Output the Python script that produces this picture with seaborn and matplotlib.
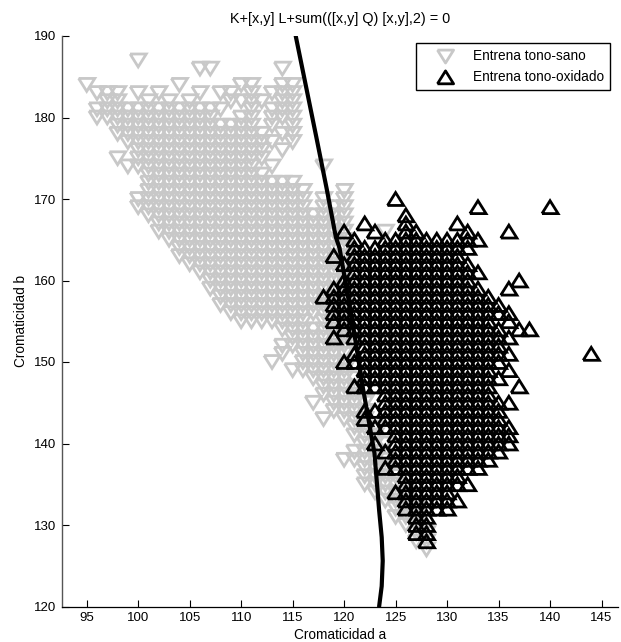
import matplotlib
matplotlib.use('Agg')
import matplotlib.pyplot as plt
import pandas as pd
import seaborn as sns

sano = {
    187: [100],
    186: [106, 107, 114],
    184: [95, 104, 110, 111, 114, 115],
    183: [96, 97, 98, 100, 102, 106, 108, 109, 111, 113, 114, 115],
    182: [97, 98, 101, 103, 105, 109, 110, 111, 112, 114, 115],
    181: [96, 97, 98, 99, 100, 101, 102, 103, 104, 105, 106, 107, 108, 111, 113, 114, 115],
    180: [96, 97, 98, 99, 100, 101, 102, 103, 104, 105, 106, 107, 110, 111, 113, 114, 115],
    179: [98, 99, 100, 101, 102, 103, 104, 105, 106, 107, 108, 109, 110, 111, 113, 115],
    178: [98, 99, 100, 101, 102, 103, 104, 105, 106, 107, 108, 109, 110, 111, 112, 114, 115],
    177: [99, 100, 101, 102, 103, 104, 105, 106, 107, 108, 109, 110, 111, 112, 113, 115],
    176: [100, 101, 102, 103, 104, 105, 106, 107, 108, 109, 110, 111, 112, 114],
    175: [98, 100, 101, 102, 103, 104, 105, 106, 107, 108, 109, 110, 111, 112],
    174: [99, 100, 101, 102, 103, 104, 105, 106, 107, 108, 109, 110, 111, 113, 118],
    173: [101, 102, 103, 104, 105, 106, 107, 108, 109, 110, 111, 112],
    172: [101, 102, 103, 104, 105, 106, 107, 108, 109, 110, 111, 112, 113, 114, 115],
    171: [101, 102, 103, 104, 105, 106, 107, 108, 109, 110, 111, 112, 113, 114, 115, 116, 120],
    170: [100, 101, 102, 103, 104, 105, 106, 107, 108, 109, 110, 111, 112, 113, 114, 115, 116, 118, 120],
    169: [100, 101, 102, 103, 104, 105, 106, 107, 108, 109, 110, 111, 112, 113, 114, 115, 116, 118, 119, 120],
    168: [101, 102, 103, 104, 105, 106, 107, 108, 109, 110, 111, 112, 113, 114, 115, 116, 117, 118, 119, 120],
    167: [102, 103, 104, 105, 106, 107, 108, 109, 110, 111, 112, 113, 114, 115, 116, 117, 118, 119, 120],
    166: [102, 103, 104, 105, 106, 107, 108, 109, 110, 111, 112, 113, 114, 115, 116, 117, 118, 119, 120, 124],
    165: [103, 104, 105, 106, 107, 108, 109, 110, 111, 112, 113, 114, 115, 116, 117, 118, 119, 120],
    164: [104, 105, 106, 107, 108, 109, 110, 111, 112, 113, 114, 115, 116, 117, 118, 119, 120],
    163: [104, 105, 106, 107, 108, 109, 110, 111, 112, 113, 114, 115, 116, 117, 118, 119, 120],
    162: [105, 106, 107, 108, 109, 110, 111, 112, 113, 114, 115, 116, 117, 118, 119, 120],
    161: [106, 107, 108, 109, 110, 111, 112, 113, 114, 115, 116, 117, 118, 119, 120],
    160: [107, 108, 109, 110, 111, 112, 113, 114, 115, 116, 117, 118, 119, 120],
    159: [107, 108, 109, 110, 111, 112, 113, 114, 115, 116, 117, 118, 119, 120],
    158: [108, 109, 110, 111, 112, 113, 114, 115, 116, 117, 118, 119, 120],
    157: [108, 109, 110, 111, 112, 113, 114, 115, 116, 117, 118, 119, 120],
    156: [109, 110, 111, 112, 113, 114, 115, 116, 117, 118, 119, 120],
    155: [110, 111, 112, 113, 114, 115, 116, 118, 119, 120],
    154: [114, 115, 116, 117, 118, 119, 120],
    153: [115, 116, 117, 118, 119, 120],
    152: [114, 115, 116, 117, 118, 119, 120],
    151: [114, 116, 117, 118, 119, 120],
    150: [113, 116, 117, 118, 119, 120],
    149: [115, 116, 117, 118, 119, 120],
    148: [117, 118, 119, 120, 121],
    147: [118, 119, 120, 121],
    146: [118, 119, 120, 121],
    145: [117, 119, 120, 121, 122],
    144: [119, 120, 121, 122],
    143: [118, 120, 121, 122],
    142: [121, 122, 123],
    141: [121, 122, 123],
    140: [122, 123, 124],
    139: [121, 122, 123],
    138: [120, 121, 122, 123, 124],
    137: [122, 123, 124],
    136: [122, 123, 124, 125],
    135: [122, 123, 124, 125],
    134: [123, 124, 125, 126],
    133: [124, 125, 126],
    132: [125, 126, 127],
    131: [125, 126, 127],
    130: [126, 127],
    129: [127, 128],
    128: [127, 128],
    127: [128],
}

oxidado = {
    170: [125],
    169: [133, 140],
    168: [126],
    167: [122, 126, 131],
    166: [120, 123, 126, 127, 132, 136],
    165: [121, 124, 125, 126, 127, 128, 129, 130, 131, 132, 133],
    164: [121, 122, 123, 124, 125, 126, 127, 128, 129, 130, 131, 132],
    163: [119, 121, 122, 123, 124, 125, 126, 127, 128, 129, 130, 131],
    162: [120, 121, 122, 123, 124, 125, 126, 127, 128, 129, 130, 131, 132],
    161: [121, 122, 123, 124, 125, 126, 127, 128, 129, 130, 131, 132, 133],
    160: [120, 121, 122, 123, 124, 125, 126, 127, 128, 129, 130, 131, 132, 137],
    159: [119, 120, 121, 122, 123, 124, 125, 126, 127, 128, 129, 130, 131, 132, 133, 136],
    158: [118, 119, 120, 121, 122, 123, 124, 125, 126, 127, 128, 129, 130, 131, 132, 133, 134],
    157: [119, 120, 121, 122, 123, 124, 125, 126, 127, 128, 129, 130, 131, 132, 133, 134, 135],
    156: [119, 120, 121, 122, 123, 124, 125, 126, 127, 128, 129, 130, 131, 132, 133, 134, 135, 136],
    155: [119, 120, 121, 122, 123, 124, 125, 126, 127, 128, 129, 130, 131, 132, 133, 134, 136],
    154: [120, 121, 122, 123, 124, 125, 126, 127, 128, 129, 130, 131, 132, 133, 134, 135, 137, 138],
    153: [119, 121, 122, 123, 124, 125, 126, 127, 128, 129, 130, 131, 132, 133, 134, 135, 136],
    152: [122, 123, 124, 125, 126, 127, 128, 129, 130, 131, 132, 133, 134, 135],
    151: [121, 122, 123, 124, 125, 126, 127, 128, 129, 130, 131, 132, 133, 134, 135, 136, 144],
    150: [120, 121, 122, 123, 124, 125, 126, 127, 128, 129, 130, 131, 132, 133, 134, 135],
    149: [122, 123, 124, 125, 126, 127, 128, 129, 130, 131, 132, 133, 134, 136],
    148: [122, 123, 124, 125, 126, 127, 128, 129, 130, 131, 132, 133, 134, 135],
    147: [121, 122, 123, 124, 125, 126, 127, 128, 129, 130, 131, 132, 133, 134, 137],
    146: [124, 125, 126, 127, 128, 129, 130, 131, 132, 133, 134],
    145: [124, 125, 126, 127, 128, 129, 130, 131, 132, 133, 134, 135, 136],
    144: [122, 123, 124, 125, 126, 127, 128, 129, 130, 131, 132, 133, 134, 135],
    143: [122, 124, 125, 126, 127, 128, 129, 130, 131, 132, 133, 134, 135],
    142: [123, 124, 125, 126, 127, 128, 129, 130, 131, 132, 133, 134, 135, 136],
    141: [125, 126, 127, 128, 129, 130, 131, 132, 133, 134, 135, 136],
    140: [123, 125, 126, 127, 128, 129, 130, 131, 132, 133, 134, 135, 136],
    139: [124, 125, 126, 127, 128, 129, 130, 131, 132, 133, 134, 135],
    138: [125, 126, 127, 128, 129, 130, 131, 132, 133, 134],
    137: [124, 125, 126, 127, 128, 129, 130, 131, 132, 133],
    136: [126, 127, 128, 129, 130, 131],
    135: [126, 127, 128, 129, 130, 131, 132],
    134: [125, 126, 127, 128, 129, 130],
    133: [126, 127, 128, 129, 130, 131],
    132: [126, 127, 128, 129, 130],
    131: [127, 128],
    130: [127, 128],
    129: [127, 128],
    128: [128],
}

# frontera de decision K+[x,y] L+sum(([x,y] Q) [x,y],2) = 0
frontera_a = [115.3, 116.3, 117.3, 118.3, 119.2, 119.55, 120.8, 121.8, 122.95, 123.4, 123.65, 123.75, 123.65, 123.4]
frontera_b = [190, 183.8, 177.6, 171.3, 165.3, 164, 155, 147, 138.8, 131.8, 128.5, 125.6, 122.5, 120]
xticks = [95, 100, 105, 110, 115, 120, 125, 130, 135, 140, 145]
yticks = [120, 130, 140, 150, 160, 170, 180, 190]


def to_frame(rows):
    pts = [(a, b) for b, vals in rows.items() for a in vals]
    return pd.DataFrame(pts, columns=['a', 'b'])


sns.set_theme(style='white')
plt.rcParams['font.family'] = ['Liberation Sans', 'DejaVu Sans']
plt.rcParams['font.size'] = 9.5

marker_down = [(-1, 0.8), (1, 0.8), (0, -0.8), (-1, 0.8)]
marker_up = [(-1, -0.8), (1, -0.8), (0, 0.8), (-1, -0.8)]

fig = plt.figure(figsize=(6.21, 6.42), dpi=100)
ax = fig.add_axes([62 / 621, 1 - 606.5 / 642, 556 / 621, 570.5 / 642])

sns.scatterplot(data=to_frame(sano), x='a', y='b', marker=marker_down, s=135,
                facecolor='none', edgecolor='#c8c8c8', linewidth=2.0, joinstyle='miter',
                label='Entrena tono-sano', clip_on=False, ax=ax)
sns.scatterplot(data=to_frame(oxidado), x='a', y='b', marker=marker_up, s=135,
                facecolor='none', edgecolor='black', linewidth=2.0, joinstyle='miter',
                label='Entrena tono-oxidado', clip_on=False, ax=ax)
sns.lineplot(x=frontera_a, y=frontera_b, sort=False, estimator=None, color='black',
             linewidth=3, ax=ax)

ax.set_xlim(92.6, 146.6)
ax.set_ylim(120, 190)
ax.set_xticks(xticks)
ax.set_yticks(yticks)
ax.tick_params(direction='in', length=5, width=0.8, color='black', labelsize=9.5,
               labelcolor='black', bottom=True, left=True, pad=4)
sns.despine(ax=ax)
ax.spines['left'].set_color('#555555')
ax.spines['left'].set_linewidth(1)
ax.spines['bottom'].set_color('black')
ax.spines['bottom'].set_linewidth(0.9)

ax.set_title('K+[x,y] L+sum(([x,y] Q) [x,y],2) = 0', fontsize=10.4, color='black', pad=9)
ax.set_xlabel('Cromaticidad a', fontsize=9.8, color='black', labelpad=3)
ax.set_ylabel('Cromaticidad b', fontsize=9.8, color='black', labelpad=4.5)

leg = ax.legend(loc='upper right', bbox_to_anchor=(610 / 621, 1 - 43 / 642),
                bbox_transform=fig.transFigure, fontsize=9.8, fancybox=False,
                framealpha=1, edgecolor='black', borderaxespad=0, borderpad=0.45,
                labelspacing=0.5, handletextpad=0.3, handlelength=3.4)
leg.get_frame().set_linewidth(1)
for t in leg.get_texts():
    t.set_color('black')

fig.savefig('out.png', dpi=100)
